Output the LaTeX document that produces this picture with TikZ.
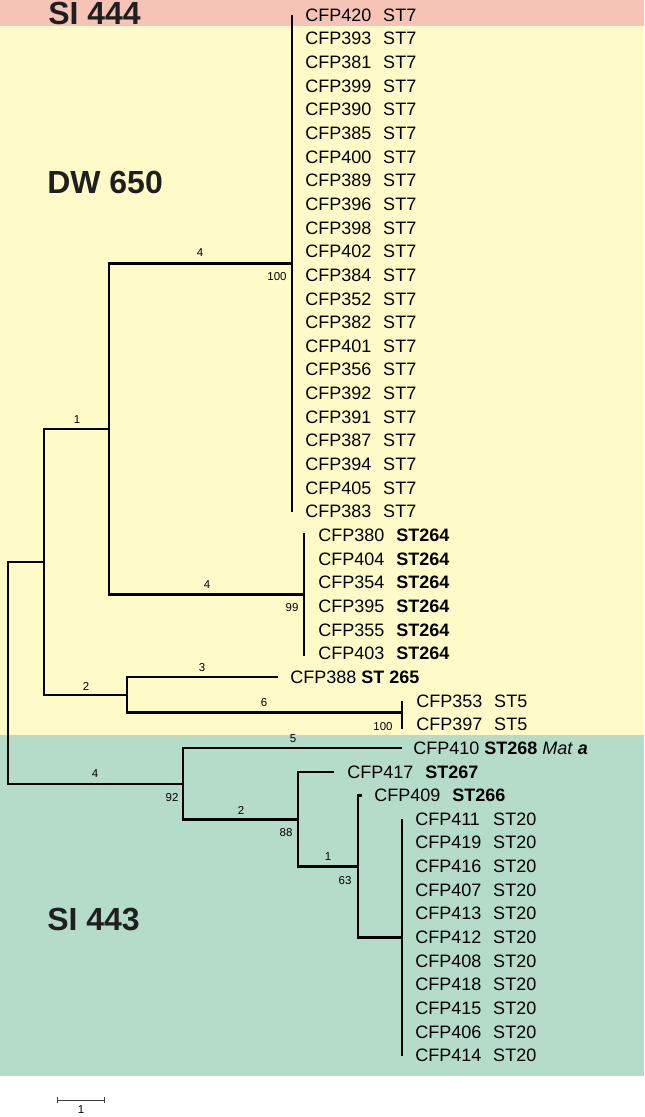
\documentclass[tikz,border=0pt]{standalone}
\usepackage{fontspec}
\setmainfont{Liberation Sans}
\usetikzlibrary{arrows.meta}
\definecolor{bandpink}{HTML}{F6C4B7}
\definecolor{bandyellow}{HTML}{FFFBC9}
\definecolor{bandteal}{HTML}{B4DCC9}
\newcommand{\cfpst}[2]{\makebox[58.5pt][l]{#1}#2}

\begin{document}
\begin{tikzpicture}[
  x=0.75pt, y=-0.75pt,
  leaf/.style={anchor=west, inner sep=0pt, font=\fontsize{13.5pt}{16pt}\selectfont},
  branch/.style={line width=1.9pt},
  blen/.style={inner sep=0pt, font=\fontsize{8.6pt}{10pt}\selectfont},
  grouplabel/.style={anchor=west, inner sep=0pt, font=\fontsize{24pt}{28pt}\selectfont\bfseries, text=black!88},
  scalebar/.style={line width=0.7pt, black!75, {Bar[width=5pt]}-{Bar[width=5pt]}},
]
\useasboundingbox (0,0) rectangle (644,1117);

% Bands
\fill[bandpink]   (0,0)   rectangle (644,26);
\fill[bandyellow] (0,26)  rectangle (644,735);
\fill[bandteal]   (0,735) rectangle (644,1076);

\node[grouplabel] (SI444) at (48,13.5) {SI 444};
\node[grouplabel] (DW650) at (47,182.5) {DW 650};
\node[grouplabel] (SI443) at (47,919) {SI 443};

% Leaves
\foreach \id [count=\i from 0] in {420,393,381,399,390,385,400,389,396,398,402,384,352,382,401,356,392,391,387,394,405,383}
  \node[leaf] (L\id) at (305,{15+23.65*\i}) {\cfpst{CFP\id}{ST7}};
\foreach \id [count=\i from 22] in {380,404,354,395,355,403}
  \node[leaf] (L\id) at (318,{15+23.65*\i}) {\cfpst{CFP\id}{\textbf{ST264}}};
\node[leaf] (L388) at (290,{15+23.65*28}) {CFP388 \textbf{ST 265}};
\node[leaf] (L353) at (416,{15+23.65*29}) {\cfpst{CFP353}{ST5}};
\node[leaf] (L397) at (416,{15+23.65*30}) {\cfpst{CFP397}{ST5}};
\node[leaf] (L410) at (413,{15+23.65*31}) {CFP410 \textbf{ST268} \textit{Mat} \textbf{\textit{a}}};
\node[leaf] (L417) at (347,{15+23.65*32}) {\cfpst{CFP417}{\textbf{ST267}}};
\node[leaf] (L409) at (374,{15+23.65*33}) {\cfpst{CFP409}{\textbf{ST266}}};
\foreach \id [count=\i from 34] in {411,419,416,407,413,412,408,418,415,406,414}
  \node[leaf] (L\id) at (415,{15+23.65*\i}) {\cfpst{CFP\id}{ST20}};

% Internal nodes and tips
\coordinate (N7)   at (292,263.3);
\coordinate (N264) at (304,594.4);
\coordinate (NA)   at (109,428.9);
\coordinate (N5)   at (402,712.7);
\coordinate (NC)   at (127,695);
\coordinate (NB)   at (44,562);
\coordinate (N20)  at (402,937.3);
\coordinate (NF)   at (358,866.4);
\coordinate (NE)   at (298,819.4);
\coordinate (ND)   at (183,784);
\coordinate (NR)   at (8,673);
\coordinate (T388) at ([xshift=-9pt]L388.west);
\coordinate (T410) at ([xshift=-8.25pt]L410.west);
\coordinate (T417) at ([xshift=-9.75pt]L417.west);
\coordinate (T409) at ([xshift=-9pt]L409.west);

% Clade bars
\draw[branch] (N7 |- L420) -- (N7 |- L383);
\draw[branch] ([yshift=1.5pt]N264 |- L380) -- ([yshift=-1.5pt]N264 |- L403);
\draw[branch] (N5 |- L353) -- ([yshift=-3pt]N5 |- L397);
\draw[branch] (N20 |- L411) -- (N20 |- L414);

% Branches
\draw[branch] (N7) -| (NA) |- (N264);
\draw[branch] (NA) -| (NB) |- (NC);
\draw[branch] (T388) -| (NC) |- (N5);
\draw[branch] (NB) -| (NR) |- (ND);
\draw[branch] (T410) -| (ND) |- (NE);
\draw[branch] (T417) -| (NE) |- (NF);
\draw[branch] (T409) -| (NF) |- (N20);

% Branch lengths and support
\node[blen] (B4a)  at (200,253) {4};
\node[blen] (S100a) at (277,277) {100};
\node[blen] (B1a)  at (77,420) {1};
\node[blen] (B4b)  at (207,585) {4};
\node[blen] (S99)  at (292,608) {99};
\node[blen] (B3)   at (202,668) {3};
\node[blen] (B2a)  at (86,686) {2};
\node[blen] (B6)   at (264,703) {6};
\node[blen] (S100b) at (383,727) {100};
\node[blen] (B5)   at (293,739) {5};
\node[blen] (B4c)  at (95,774) {4};
\node[blen] (S92)  at (172,798) {92};
\node[blen] (B2b)  at (241,810) {2};
\node[blen] (S88)  at (286,833) {88};
\node[blen] (B1b)  at (328,857) {1};
\node[blen] (S63)  at (345,881) {63};

% Scale bar
\coordinate (SBL) at (57,1100);
\coordinate (SBR) at (105,1100);
\draw[scalebar] (SBL) -- (SBR);
\node[blen] (SBLAB) at (81,1109.5) {1};

\end{tikzpicture}
\end{document}
